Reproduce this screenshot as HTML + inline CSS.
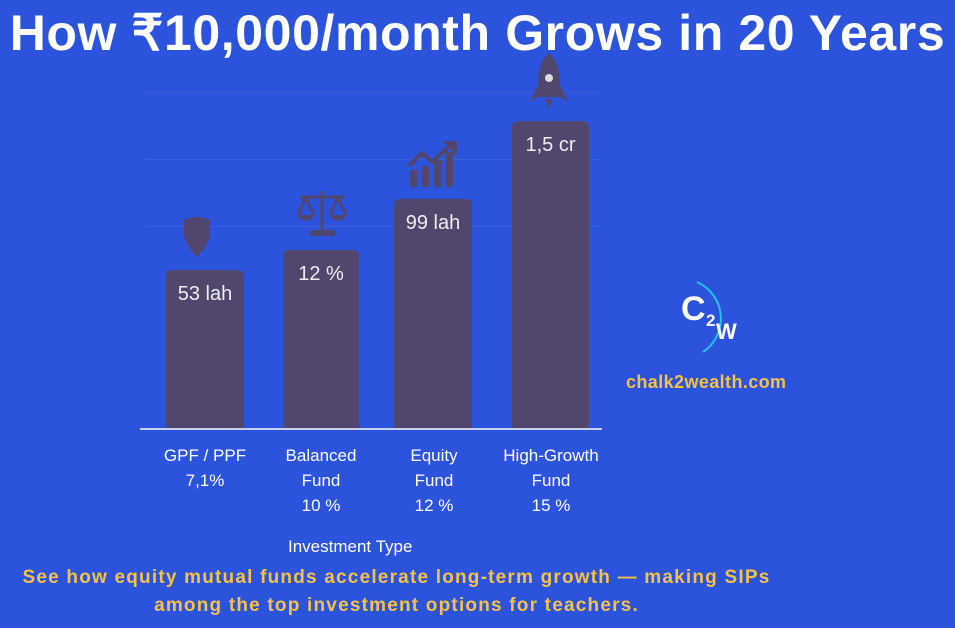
<!DOCTYPE html>
<html><head><meta charset="utf-8"><style>
body{margin:0;width:955px;height:628px;background:#2c53dc;overflow:hidden;position:relative;font-family:"Liberation Sans",sans-serif}
.t{position:absolute;white-space:nowrap}
.bar{position:absolute;background:#51476e;border-radius:6px 6px 0 0}
.bl{position:absolute;color:#eee;font-size:20px;text-align:center;width:100%}
.lab{position:absolute;color:#fff;font-size:17px;text-align:center;line-height:25px;width:130px}
.g{position:absolute;left:145px;width:455px;height:1px;background:#3a60e0}
</style></head><body>
<div class="t" style="left:0;width:955px;text-align:center;top:4px;color:#fff;font-weight:bold;font-size:50px;letter-spacing:0.6px">How ₹10,000/month Grows in 20 Years</div>
<div class="g" style="top:92px;background:#3f5fcf"></div>
<div class="g" style="top:159px"></div>
<div class="g" style="top:226px"></div>
<div class="bar" style="left:166px;top:270px;width:78px;height:159px"><div class="bl" style="top:13px">53 lah</div></div>
<div class="bar" style="left:283px;top:250px;width:76px;height:179px"><div class="bl" style="top:13px">12 %</div></div>
<div class="bar" style="left:394px;top:199px;width:78px;height:230px"><div class="bl" style="top:13px">99 lah</div></div>
<div class="bar" style="left:512px;top:121px;width:77px;height:308px"><div class="bl" style="top:13px">1,5 cr</div></div>
<div style="position:absolute;left:140px;top:428px;width:462px;height:2px;background:#c8d0f0"></div>
<svg style="position:absolute;left:0;top:0" width="955" height="628">
<path d="M184 220 Q197 214 210 220 L210 235 Q207 248 197 257 Q187 248 184 235Z" fill="#51476e"/>
<g fill="none" stroke="#51476e" stroke-width="3"><path d="M300 197H345M322 191V232M306 197L298 215M306 197L314 215M338 197L330 215M338 197L346 215"/></g>
<g fill="#51476e"><path d="M297 215h18q-9 12 -18 0zM329 215h18q-9 12-18 0z"/><rect x="310" y="230" width="25" height="6" rx="2"/>
<rect x="410" y="170" width="7" height="17"/><rect x="422" y="166" width="7" height="21"/><rect x="434" y="160" width="7" height="27"/><rect x="446" y="152" width="7" height="35"/></g>
<path d="M409 166L422 153L432 162L452 144" stroke="#51476e" stroke-width="4" fill="none"/><path d="M442 141H457V156Z" fill="#51476e"/>
<path d="M549 53Q560 62 560 85L568 102L560 97L538 97L530 102L538 85Q538 62 549 53Z" fill="#51476e"/><path d="M545 99h8l-4 10z" fill="#51476e"/><circle cx="549" cy="78" r="4" fill="#ddd"/>
<path d="M697 282A40 40 0 0 1 703 352" stroke="#27c2e8" stroke-width="2" fill="none"/>
<text x="681" y="320" font-family="Liberation Sans" font-weight="bold" font-size="34" fill="#fff">C</text>
<text x="706" y="326" font-family="Liberation Sans" font-weight="bold" font-size="17" fill="#fff">2</text>
<text x="716" y="339" font-family="Liberation Sans" font-weight="bold" font-size="22" fill="#fff">W</text>
</svg>
<div class="t" style="left:626px;top:372px;color:#f5c146;font-weight:bold;font-size:18px;letter-spacing:0.4px">chalk2wealth.com</div>
<div class="lab" style="left:140px;top:443px">GPF / PPF<br>7,1%</div>
<div class="lab" style="left:256px;top:443px">Balanced<br>Fund<br>10 %</div>
<div class="lab" style="left:369px;top:443px">Equity<br>Fund<br>12 %</div>
<div class="lab" style="left:486px;top:443px">High-Growth<br>Fund<br>15 %</div>
<div class="t" style="left:288px;top:537px;color:#fff;font-size:17px">Investment Type</div>
<div class="t" style="left:0;width:793px;text-align:center;top:564px;color:#f5c146;font-weight:bold;font-size:19px;letter-spacing:1.2px;line-height:28px">See how equity mutual funds accelerate long-term growth — making SIPs<br>among the top investment options for teachers.</div>
</body></html>
